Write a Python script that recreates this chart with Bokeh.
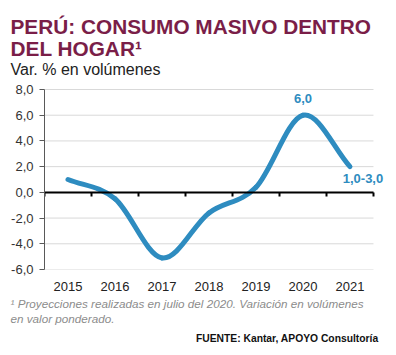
from bokeh.plotting import figure
from bokeh.models import (Title, FixedTicker, LinearAxis, Range1d, Label,
                          ColumnDataSource, CustomJSTickFormatter)
from bokeh.embed import file_html
from bokeh.resources import INLINE

# ---- data ----
years = ["2015", "2016", "2017", "2018", "2019", "2020", "2021"]
values = [1.0, -0.5, -5.1, -1.6, 0.4, 6.0, 2.0]
y_ticks = [-6, -4, -2, 0, 2, 4, 6, 8]
y_tick_labels = ["-6,0", "-4,0", "-2,0", "0,0", "2,0", "4,0", "6,0", "8,0"]
point_labels = {5: "6,0", 6: "1,0-3,0"}

title_1 = "PERÚ: CONSUMO MASIVO DENTRO"
title_2 = "DEL HOGAR¹"
subtitle = "Var. % en volúmenes"
note_1 = "¹ Proyecciones realizadas en julio del 2020. Variación en volúmenes"
note_2 = "en valor ponderado."
source = "FUENTE: Kantar, APOYO Consultoría"

FONT = "Liberation Sans"
BLUE = "#2E8CC0"
MAROON = "#7A1E48"

xs = list(range(len(years)))
x_lo = -0.5
x_hi = len(years) - 0.5
y_lo, y_hi = y_ticks[0], y_ticks[-1]

# smooth (Excel-like) curve: cubic Bezier segments with Catmull-Rom tangents
n = len(values)
tang = []
for i in range(n):
    if i == 0:
        tang.append(values[1] - values[0])
    elif i == n - 1:
        tang.append(values[-1] - values[-2])
    else:
        tang.append((values[i + 1] - values[i - 1]) / 2.0)
seg = dict(x0=[], y0=[], x1=[], y1=[], cx0=[], cy0=[], cx1=[], cy1=[])
for i in range(n - 1):
    seg["x0"].append(xs[i]); seg["y0"].append(values[i])
    seg["x1"].append(xs[i + 1]); seg["y1"].append(values[i + 1])
    seg["cx0"].append(xs[i] + 1 / 3); seg["cy0"].append(values[i] + tang[i] / 3)
    seg["cx1"].append(xs[i + 1] - 1 / 3); seg["cy1"].append(values[i + 1] - tang[i + 1] / 3)
src = ColumnDataSource(seg)

# gridlines limited to the category span
grid_src = ColumnDataSource(dict(x0=[x_lo] * len(y_ticks), x1=[x_hi] * len(y_ticks),
                                 y=y_ticks))

p = figure(width=396, height=355, output_backend="svg", toolbar_location=None,
           x_range=Range1d(x_lo, x_hi + 0.256), y_range=Range1d(y_lo, y_hi + 0.933),
           min_border_left=44, min_border_right=11, min_border_top=77,
           min_border_bottom=86, title_location=None)
p.outline_line_color = None
p.background_fill_color = "white"
p.border_fill_color = "white"

# y axis
p.yaxis.ticker = FixedTicker(ticks=y_ticks)
p.yaxis.bounds = (y_lo, y_hi)
p.yaxis.major_label_overrides = dict(zip(y_ticks, y_tick_labels))
p.yaxis.axis_line_color = "#595959"
p.yaxis.major_tick_line_color = "#595959"
p.yaxis.major_tick_out = 5
p.yaxis.major_tick_in = 0
p.yaxis.minor_tick_out = 0
p.yaxis.minor_tick_in = 0
p.yaxis.major_label_standoff = 6
p.yaxis.major_label_text_font = FONT
p.yaxis.major_label_text_font_size = "13px"
p.yaxis.major_label_text_color = "#333333"

# x axis (labels only)
p.xaxis.ticker = FixedTicker(ticks=xs)
p.xaxis.major_label_overrides = dict(zip(xs, years))
p.xaxis.axis_line_color = None
p.xaxis.major_tick_line_color = None
p.xaxis.minor_tick_line_color = None
p.xaxis.major_tick_out = 0
p.xaxis.major_tick_in = 0
p.xaxis.major_label_standoff = 12
p.xaxis.major_label_text_font = FONT
p.xaxis.major_label_text_font_size = "13px"
p.xaxis.major_label_text_color = "#222222"

# grid (drawn as segments across the categories)
p.xgrid.grid_line_color = None
p.ygrid.grid_line_color = None
p.segment(x0="x0", x1="x1", y0="y", y1="y", source=grid_src,
          line_color="#D9D9D9", line_width=1)

# zero axis line with category ticks
bounds = [i - 0.5 for i in range(len(years) + 1)]
zero_axis = LinearAxis(fixed_location=0, ticker=FixedTicker(ticks=bounds),
                       bounds=(x_lo, x_hi),
                       formatter=CustomJSTickFormatter(code="return ''"),
                       axis_line_color="black", axis_line_width=2,
                       major_tick_line_color="black", major_tick_line_width=2,
                       major_tick_out=4, major_tick_in=0,
                       minor_tick_out=0, minor_tick_in=0)
p.add_layout(zero_axis, "below")

# curve
p.bezier(x0="x0", y0="y0", x1="x1", y1="y1", cx0="cx0", cy0="cy0",
         cx1="cx1", cy1="cy1", source=src, line_color=BLUE, line_width=5,
         line_cap="round")

# point labels
lab_a = Label(x=xs[5], y=values[5], text=point_labels[5], text_align="center",
              text_baseline="alphabetic", y_offset=17, text_font=FONT,
              text_font_size="13px", text_font_style="bold", text_color=BLUE)
lab_b = Label(x=xs[6], y=values[6], text=point_labels[6], text_align="center",
              text_baseline="alphabetic", x_offset=13, y_offset=-12, text_font=FONT,
              text_font_size="13px", text_font_style="bold", text_color=BLUE)
p.add_layout(lab_a)
p.add_layout(lab_b)

# titles (first added is closest to the frame)
p.add_layout(Title(text=subtitle, align="left", offset=-34, text_font=FONT,
                   text_font_size="16px", text_font_style="normal",
                   text_color="#222222", standoff=0), "above")
p.add_layout(Title(text=title_2, align="left", offset=-34, text_font=FONT,
                   text_font_size="20.8px", text_font_style="bold",
                   text_color=MAROON, standoff=-3.6), "above")
p.add_layout(Title(text=title_1, align="left", offset=-34, text_font=FONT,
                   text_font_size="20.8px", text_font_style="bold",
                   text_color=MAROON, standoff=0), "above")

# footnotes
p.add_layout(Title(text=note_1, align="left", offset=-34, text_font=FONT,
                   text_font_size="11.7px", text_font_style="italic",
                   text_color="#8C8C8C", standoff=2), "below")
p.add_layout(Title(text=note_2, align="left", offset=-34, text_font=FONT,
                   text_font_size="11.7px", text_font_style="italic",
                   text_color="#8C8C8C", standoff=-1), "below")
p.add_layout(Title(text=source, align="right", offset=7, text_font=FONT,
                   text_font_size="10.3px", text_font_style="bold",
                   text_color="#111111", standoff=13), "below")

open("out.html", "w").write(file_html(p, INLINE))
